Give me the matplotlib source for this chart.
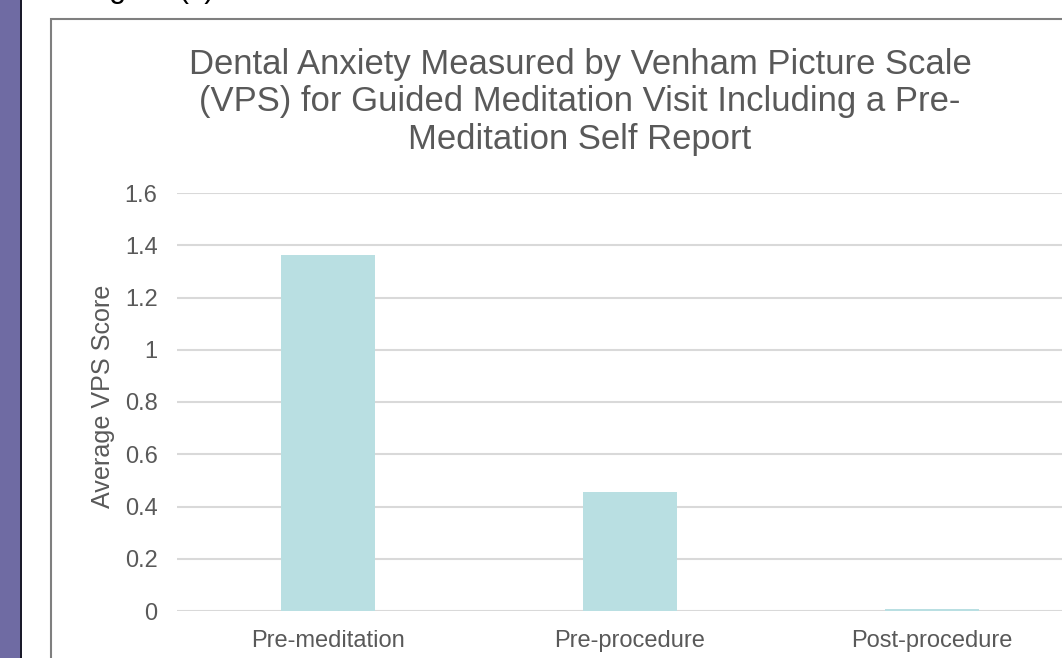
import matplotlib.pyplot as plt
from matplotlib.patches import Rectangle

plt.rcParams['font.family'] = ['Liberation Sans', 'DejaVu Sans']

# data
categories = ['Pre-meditation', 'Pre-procedure', 'Post-procedure']
vps_scores = [1.364, 0.455, 0.009]
y_ticks = [0, 0.2, 0.4, 0.6, 0.8, 1, 1.2, 1.4, 1.6]
y_tick_labels = ['0', '0.2', '0.4', '0.6', '0.8', '1', '1.2', '1.4', '1.6']

W, H = 1062, 658
fig = plt.figure(figsize=(W / 100, H / 100), dpi=100)
fig.patch.set_facecolor('white')

# slide background bits: purple strip on the left and the chart frame
fig.patches.append(Rectangle((0, 0), 20 / W, 1, transform=fig.transFigure,
                             facecolor='#6F6BA3', edgecolor='none', zorder=-3))
fig.patches.append(Rectangle((20 / W, 0), 2 / W, 1, transform=fig.transFigure,
                             facecolor='#1a1a2a', edgecolor='none', zorder=-3))
fig.patches.append(Rectangle((51 / W, -0.1), 1.2, 1 - 19 / H + 0.1, transform=fig.transFigure,
                             facecolor='white', edgecolor='#7F7F7F', linewidth=1.5, zorder=-2))

# caption of the slide, cropped off at the very top (only descenders show)
fig.text(84 / W, 1 + 3 / H, 'Figure (x)', fontsize=22, color='black', ha='left', va='baseline')

# plot area in pixel coordinates
left, right, bottom, top = 177, 1083, 611, 193
ax = fig.add_axes([left / W, (H - bottom) / H, (right - left) / W, (bottom - top) / H])
ax.set_facecolor('none')
ax.set_zorder(2)

x = range(len(categories))
ax.bar(x, vps_scores, width=0.31, color='#B9DFE2', zorder=2)

ax.set_xlim(-0.5, len(categories) - 0.5)
ax.set_ylim(0, 1.6)
ax.set_yticks(y_ticks)
ax.set_yticklabels(y_tick_labels)
ax.set_xticks(list(x))
ax.set_xticklabels(categories)
ax.tick_params(axis='both', length=0, labelsize=17, labelcolor='#595959')
ax.tick_params(axis='y', pad=14)
ax.tick_params(axis='x', pad=14)
ax.yaxis.grid(True, color='#D9D9D9', linewidth=1.5, zorder=0)
ax.set_axisbelow(True)
for s in ax.spines.values():
    s.set_visible(False)

ax.set_ylabel('Average VPS Score', fontsize=18.1, color='#595959')
ax.yaxis.set_label_coords(-0.068, 0.513)

fig.text(580 / W, 1 - 102 / H,
         'Dental Anxiety Measured by Venham Picture Scale\n'
         '(VPS) for Guided Meditation Visit Including a Pre-\n'
         'Meditation Self Report',
         fontsize=24.9, color='#595959', ha='center', va='center', linespacing=1.19)

fig.savefig('out.png', dpi=100)
